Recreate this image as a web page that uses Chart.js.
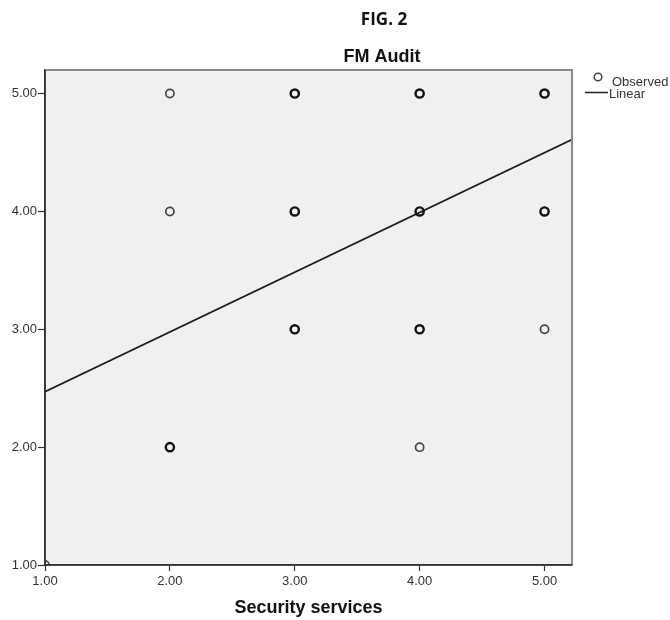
<!DOCTYPE html>
<html>
<head>
<meta charset="utf-8">
<title>FIG. 2 FM Audit</title>
<script src="https://cdn.jsdelivr.net/npm/chart.js@4.4.1/dist/chart.umd.min.js"></script>
<style>
  html, body { margin: 0; padding: 0; background: #ffffff; }
  #wrap { width: 670px; height: 620px; position: relative; }
</style>
</head>
<body>
<div id="wrap"><canvas id="chart" width="670" height="620"></canvas></div>
<script>
// Figure text
const figLabel = 'FIG. 2';
const chartTitle = 'FM Audit';
const xAxisTitle = 'Security services';

// Observed cases (Security services vs FM Audit); obsCount = cases stacked on one spot
const obsX     = [1, 2, 2, 2, 3, 3, 3, 4, 4, 4, 4, 5, 5, 5];
const obsY     = [1, 5, 4, 2, 5, 4, 3, 5, 4, 3, 2, 5, 4, 3];
const obsCount = [1, 1, 1, 2, 2, 2, 2, 2, 2, 2, 1, 2, 2, 1];

// Linear fit, evaluated at the two ends of the x range
const fitX = [1.00, 5.22];
const fitY = [2.47, 4.61];

// Axis ranges and tick values
const xRange = [1.00, 5.22];
const yRange = [1.00, 5.20];
const xTicks = [1, 2, 3, 4, 5];
const yTicks = [1, 2, 3, 4, 5];

const seriesLabels = ['Observed', 'Linear'];

const observed = obsX.map((x, i) => ({ x: x, y: obsY[i] }));
const fitted = fitX.map((x, i) => ({ x: x, y: fitY[i] }));

const tickFont = { family: "'Liberation Sans', Arial, sans-serif", size: 13 };

// Grey plot background
const plotBackground = {
  id: 'plotBackground',
  beforeDraw(chart) {
    const { ctx, chartArea: a } = chart;
    ctx.save();
    ctx.fillStyle = '#f0f0f0';
    ctx.fillRect(a.left, a.top, a.right - a.left, a.bottom - a.top);
    ctx.restore();
  }
};

// Plot frame: grey upper/right edges, dark left/bottom edges
const plotFrame = {
  id: 'plotFrame',
  afterDatasetsDraw(chart) {
    const { ctx, chartArea: a } = chart;
    ctx.save();
    ctx.strokeStyle = '#8a8a8a';
    ctx.lineWidth = 2;
    ctx.beginPath();
    ctx.moveTo(a.left, a.top);
    ctx.lineTo(a.right, a.top);
    ctx.lineTo(a.right, a.bottom);
    ctx.stroke();
    ctx.strokeStyle = '#333333';
    ctx.lineWidth = 1.6;
    ctx.beginPath();
    ctx.moveTo(a.left, a.top);
    ctx.lineTo(a.left, a.bottom);
    ctx.lineTo(a.right, a.bottom);
    ctx.stroke();
    ctx.restore();
  }
};

// Figure label and chart title
const headings = {
  id: 'headings',
  afterDraw(chart) {
    const { ctx } = chart;
    ctx.save();
    ctx.fillStyle = '#111111';
    ctx.textAlign = 'center';
    ctx.textBaseline = 'middle';
    ctx.font = "bold 17px 'Open Sans', sans-serif";
    ctx.fillText(figLabel, 384, 20);
    ctx.font = "bold 18px 'Liberation Sans', Arial, sans-serif";
    ctx.fillText(chartTitle, 382, 57);
    ctx.restore();
  }
};

// Legend beside the upper right corner of the plot
const sideLegend = {
  id: 'sideLegend',
  afterDraw(chart) {
    const { ctx } = chart;
    const ds = chart.data.datasets;
    ctx.save();
    ctx.font = "13px 'Liberation Sans', Arial, sans-serif";
    ctx.fillStyle = '#333333';
    ctx.textAlign = 'left';
    ctx.textBaseline = 'middle';
    // marker entry
    ctx.strokeStyle = '#444444';
    ctx.lineWidth = 1.5;
    ctx.beginPath();
    ctx.arc(598, 77, 3.8, 0, Math.PI * 2);
    ctx.stroke();
    ctx.fillText(ds[0].label, 612, 82);
    // line entry
    ctx.strokeStyle = '#222222';
    ctx.lineWidth = 1.5;
    ctx.beginPath();
    ctx.moveTo(585, 92.5);
    ctx.lineTo(608, 92.5);
    ctx.stroke();
    ctx.fillText(ds[1].label, 609, 94);
    ctx.restore();
  }
};

new Chart(document.getElementById('chart'), {
  type: 'scatter',
  data: {
    datasets: [
      {
        label: seriesLabels[0],
        data: observed,
        showLine: false,
        clip: 0,
        pointStyle: 'circle',
        pointRadius: 4.1,
        pointHoverRadius: 4.1,
        backgroundColor: 'rgba(0,0,0,0)',
        borderColor: ctx => (obsCount[ctx.dataIndex] > 1 ? '#111111' : '#444444'),
        borderWidth: ctx => (obsCount[ctx.dataIndex] > 1 ? 2.4 : 1.7),
        order: 1
      },
      {
        type: 'line',
        label: seriesLabels[1],
        data: fitted,
        showLine: true,
        clip: 0,
        borderColor: '#1a1a1a',
        borderWidth: 1.7,
        pointRadius: 0,
        fill: false,
        tension: 0,
        order: 2
      }
    ]
  },
  options: {
    responsive: false,
    animation: false,
    events: [],
    layout: { padding: { top: 70, right: 98, left: 0, bottom: 0 } },
    plugins: {
      legend: { display: false },
      title: { display: false },
      tooltip: { enabled: false }
    },
    scales: {
      x: {
        type: 'linear',
        min: xRange[0],
        max: xRange[1],
        afterBuildTicks: s => { s.ticks = xTicks.map(v => ({ value: v })); },
        afterFit: s => { s.height = 55; },
        grid: { drawOnChartArea: false, drawTicks: true, tickLength: 6, tickColor: '#333333', tickWidth: 1.2 },
        border: { display: true, color: '#333333', width: 1.6 },
        ticks: {
          font: tickFont,
          color: '#333333',
          padding: 3,
          maxRotation: 0,
          callback: v => Number(v).toFixed(2)
        },
        title: {
          display: true,
          text: xAxisTitle,
          color: '#111111',
          font: { family: "'Liberation Sans', Arial, sans-serif", size: 18, weight: 'bold' },
          padding: { top: 0, bottom: 1 }
        }
      },
      y: {
        type: 'linear',
        min: yRange[0],
        max: yRange[1],
        afterBuildTicks: s => { s.ticks = yTicks.map(v => ({ value: v })); },
        afterFit: s => { s.width = 45; },
        grid: { drawOnChartArea: false, drawTicks: true, tickLength: 7, tickColor: '#333333', tickWidth: 1.2 },
        border: { display: true, color: '#333333', width: 1.6 },
        ticks: {
          font: tickFont,
          color: '#333333',
          padding: 1,
          callback: v => Number(v).toFixed(2)
        }
      }
    }
  },
  plugins: [plotBackground, plotFrame, headings, sideLegend]
});
</script>
</body>
</html>
